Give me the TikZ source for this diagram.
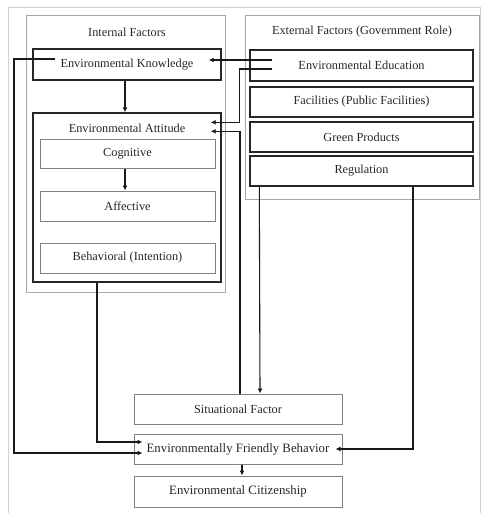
\documentclass[tikz,border=0pt]{standalone}
\usepackage{fontspec}
\setmainfont{Liberation Serif}
\usetikzlibrary{arrows.meta, calc}

\begin{document}
\begin{tikzpicture}[x=1pt, y=-1pt,
  every node/.style={font=\fontsize{12.3}{14}\selectfont, text=black!85, inner sep=0pt},
  group/.style={draw=black!35, line width=0.9pt},
  boldbox/.style={draw=black!85, line width=1.4pt},
  softbox/.style={draw=black!50, line width=1pt},
  link/.style={-{Latex[length=5pt, width=5pt]}, line width=1.1pt, black!90}]
  \useasboundingbox (0,0) rectangle (483,513);
  \draw[black!18, line width=0.8pt] (8,520) -- (8,7) -- (480,7) -- (480,520);

  % internal factors
  \node[group, minimum width=199, minimum height=277] (internal) at (125.5,153.5) {};
  \node (inttitle) at (127,32) {Internal Factors};
  \node[boldbox, minimum width=188, minimum height=31] (ek) at (127,64.5) {Environmental Knowledge};
  \node[boldbox, minimum width=188, minimum height=169] (ea) at (127,197.5) {};
  \node (eatitle) at (127,128) {Environmental Attitude};
  \node[softbox, minimum width=175, minimum height=28] (cog) at (127.5,154) {Cognitive};
  \node[softbox, minimum width=175, minimum height=30] (aff) at (127.5,206) {Affective};
  \node[softbox, minimum width=175, minimum height=30] (beh) at (127.5,258) {Behavioral (Intention)};

  % external factors
  \node[group, minimum width=234, minimum height=184] (external) at (362,107) {};
  \node (exttitle) at (362,32) {External Factors (Government Role)};
  \node[boldbox, minimum width=223, minimum height=31] (edu) at (361.5,65.5) {Environmental Education};
  \node[boldbox, minimum width=223, minimum height=30] (fac) at (361.5,102) {Facilities (Public Facilities)};
  \node[boldbox, minimum width=223, minimum height=30] (green) at (361.5,137) {Green Products};
  \node[boldbox, minimum width=223, minimum height=30] (reg) at (361.5,171) {Regulation};

  % outcome
  \node[softbox, minimum width=208, minimum height=30] (sit) at (238,409) {Situational Factor};
  \node[softbox, minimum width=208, minimum height=30, font=\fontsize{12.8}{14}\selectfont] (efb) at (238,449) {Environmentally Friendly Behavior};
  \node[softbox, minimum width=208, minimum height=31, font=\fontsize{12.8}{14}\selectfont] (cit) at (238,491.5) {Environmental Citizenship};

  \coordinate (ekout) at (55,59);

  \draw[link] ($(ek.south)+(-2,0)$) -- ($(ea.north)+(-2,0)$);
  \draw[link] ($(cog.south)+(-2.5,0)$) -- ($(aff.north)+(-2.5,0)$);
  \draw[link] (ekout) -- ++(-41,0) |- ($(efb.west)+(9,4)$);
  \draw[link] ($(ea.south)+(-30,0)$) |- ($(efb.west)+(9,-7)$);
  \draw[link] ($(edu.west)+(23,-5.5)$) -- ($(ek.east)+(-13,-4.5)$);
  \draw[link] ($(edu.west)+(23,3.5)$) -- ++(-33,0) |- ($(ea.north east)+(-11,10)$);
  \draw[link] ($(sit.north)+(2,0)$) |- ($(ea.north east)+(-11,19)$);
  \draw[link] ($(reg.south west)+(10,0)$) -- ($(sit.north)+(22,0)$);
  \draw[link] ($(reg.south)+(51.5,0)$) |- ($(efb.east)+(-7,0)$);
  \draw[link] ($(efb.south)+(4,0)$) -- ($(cit.north)+(4,0)$);

\end{tikzpicture}
\end{document}
